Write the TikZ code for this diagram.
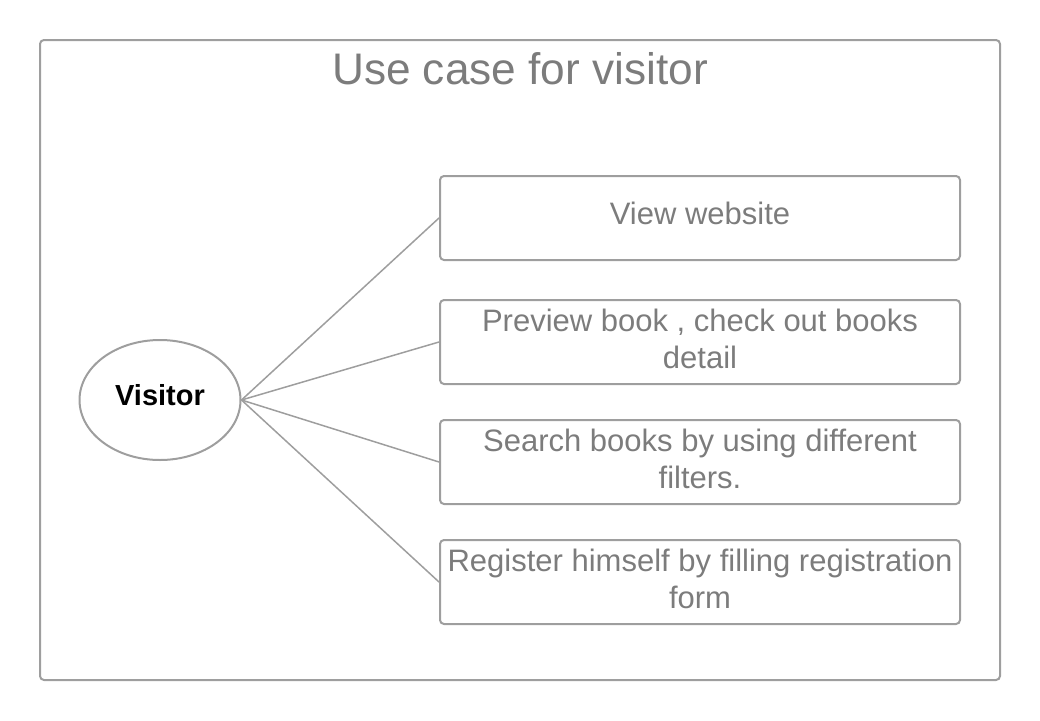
\documentclass[tikz,border=0pt]{standalone}
\usepackage{fontspec}
\setmainfont{Liberation Sans}
\usetikzlibrary{shapes.geometric}
\definecolor{edgegray}{HTML}{9E9E9E}
\definecolor{textgray}{HTML}{7C7C7C}
\tikzset{
  frame/.style={draw=edgegray, line width=2pt, rounded corners=4pt},
  usecase/.style={draw=edgegray, line width=2pt, rounded corners=4pt, minimum width=520pt, minimum height=84pt, inner sep=0pt},
  uctext/.style={text=textgray, align=center, font=\fontsize{31}{37}\selectfont, inner sep=0pt},
  actor/.style={draw=edgegray, line width=2pt, ellipse, minimum width=161pt, minimum height=120pt, inner sep=0pt},
  link/.style={draw=edgegray, line width=1.5pt}
}
\begin{document}
\begin{tikzpicture}[x=1pt,y=-1pt]
\useasboundingbox (0,0) rectangle (1040,720);
\draw[frame] (40,40) rectangle (1000,680);
\node[anchor=base, text=textgray, font=\fontsize{44.2}{50}\selectfont] (title) at (520,84) {Use case for visitor};
\node[actor] (visitor) at (160,400) {};
\node[anchor=base, font=\bfseries\fontsize{29}{34}\selectfont] (vlabel) at (160,405) {Visitor};
\node[usecase] (uc1) at (700,218) {};
\node[usecase] (uc2) at (700,342) {};
\node[usecase] (uc3) at (700,462) {};
\node[usecase] (uc4) at (700,582) {};
\node[uctext, anchor=base] (t1) at (700,224) {View website};
\node[uctext, anchor=base] (t2a) at (700,331) {Preview book , check out books};
\node[uctext, anchor=base] (t2b) at (700,368) {detail};
\node[uctext, anchor=base] (t3a) at (700,451) {Search books by using different};
\node[uctext, anchor=base] (t3b) at (700,488) {filters.};
\node[uctext, anchor=base] (t4a) at (700,571) {Register himself by filling registration};
\node[uctext, anchor=base] (t4b) at (700,608) {form};
\draw[link] (visitor.east) -- (uc1.west);
\draw[link] (visitor.east) -- (uc2.west);
\draw[link] (visitor.east) -- (uc3.west);
\draw[link] (visitor.east) -- (uc4.west);
\end{tikzpicture}
\end{document}
